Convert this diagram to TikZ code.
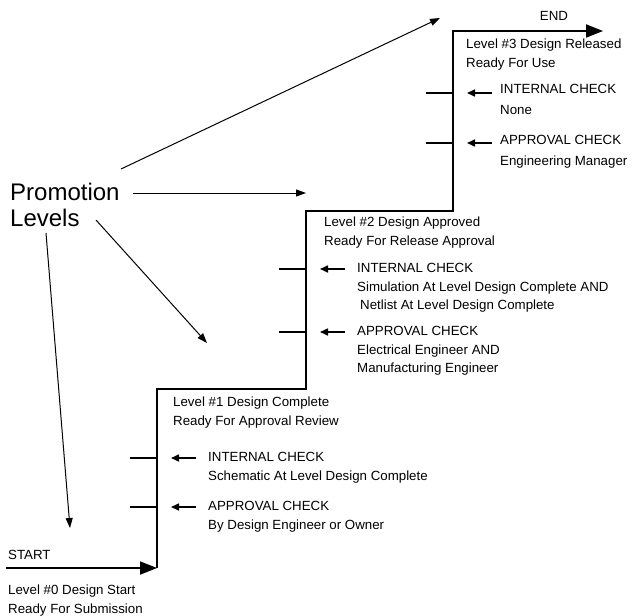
\documentclass[tikz,border=0pt]{standalone}
\usepackage{fontspec}
\setmainfont{Liberation Sans}
\usetikzlibrary{arrows.meta}
\newcommand\smalltxt{\fontsize{13.3}{18.5}\selectfont}
\newcommand\bigtxt{\fontsize{24}{25.5}\selectfont}

\begin{document}
\begin{tikzpicture}[x=1pt,y=-1pt,
  stair/.style={line width=1.8pt},
  bigtip/.style={-{Triangle[length=17pt,width=13pt]}},
  tickmark/.style={line width=2pt},
  checkarrow/.style={line width=1.6pt,-{Triangle[length=8pt,width=7pt]}},
  pointer/.style={line width=1pt,-{Triangle[length=10pt,width=7pt]}},
  txt/.style={font=\smalltxt, align=left, inner sep=0pt, anchor=north west},
]
\useasboundingbox (0,0) rectangle (639,615);

% corners of the staircase
\coordinate (s0) at (6,568);
\coordinate (c1) at (157,568);
\coordinate (c2) at (157,389);
\coordinate (c3) at (306,389);
\coordinate (c4) at (306,211);
\coordinate (c5) at (453,211);
\coordinate (c6) at (453,31);
\coordinate (ee) at (603,31);

% staircase of promotion levels
\draw[stair,bigtip] (s0) -- (c1);
\draw[stair,bigtip] (c1) -- (c2) -- (c3) -- (c4) -- (c5) -- (c6) -- (ee);

% check marks on each riser
\foreach \n/\x/\y in {i1/157/458, a1/157/507, i2/306/269, a2/306/332, i3/453/93, a3/453/143}{
  \coordinate (t\n) at (\x,\y);
  \coordinate (u\n) at (\x-27,\y);
  \coordinate (h\n) at (\x+14,\y);
  \coordinate (q\n) at (\x+39,\y);
  \draw[tickmark] (u\n) -- (t\n);
  \draw[checkarrow] (q\n) -- (h\n);
}

% labels
\node[txt] (start) at (8,550) {START};
\node[txt] (lvl0) at (8,585) {Level \#0 Design Start\\Ready For Submission};
\node[txt] (lvl1) at (173,397) {Level \#1 Design Complete\\Ready For Approval Review};
\node[txt] (int1) at (208,452.5) {INTERNAL CHECK\\Schematic At Level Design Complete};
\node[txt] (app1) at (208,501.5) {APPROVAL CHECK\\By Design Engineer or Owner};
\node[txt] (lvl2) at (324,217) {Level \#2 Design Approved\\Ready For Release Approval};
\node[txt] (int2) at (357,263.5) {INTERNAL CHECK\\Simulation At Level Design Complete AND\\\hspace{3pt}Netlist At Level Design Complete};
\node[txt] (app2) at (357,326.5) {APPROVAL CHECK\\Electrical Engineer AND\\Manufacturing Engineer};
\node[txt] (lvl3) at (466,39) {Level \#3 Design Released\\Ready For Use};
\node[txt] (int3) at (500,84.5) {INTERNAL CHECK\\[2pt]None};
\node[txt] (app3) at (500,135.5) {APPROVAL CHECK\\[2pt]Engineering Manager};
\node[font=\smalltxt, inner sep=0pt] (end) at (554,16) {END};
\node[font=\bigtxt, align=left, inner sep=0pt, anchor=north west] (promo) at (10,183) {Promotion\\Levels};

% pointers from the caption to the levels
\coordinate (p1a) at (121,169);
\coordinate (p1b) at (440,18);
\coordinate (p2a) at (133,193);
\coordinate (p2b) at (306,193);
\coordinate (p3a) at (96,220);
\coordinate (p3b) at (207,343);
\coordinate (p4a) at (46,233);
\coordinate (p4b) at (70,528);
\draw[pointer] (p1a) -- (p1b);
\draw[pointer] (p2a) -- (p2b);
\draw[pointer] (p3a) -- (p3b);
\draw[pointer] (p4a) -- (p4b);
\end{tikzpicture}
\end{document}
